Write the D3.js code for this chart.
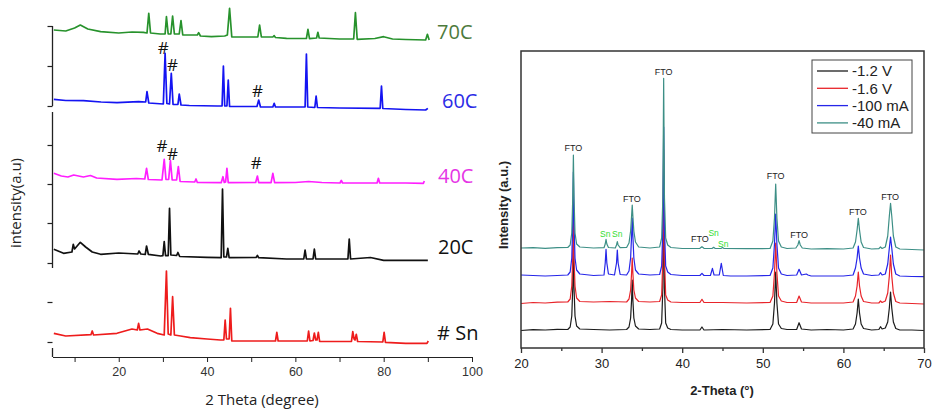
<!DOCTYPE html>
<html><head><meta charset="utf-8">
<script src="https://cdn.jsdelivr.net/npm/d3@7"></script>
<style>body{margin:0;background:#fff}svg{display:block}</style>
</head><body>
<svg id="c" width="937" height="418"></svg>
<script>
// ---------- LEFT PANEL DATA (2θ in degrees, stacked intensity in a.u.) ----------
const leftXTicks = [10,20,30,40,50,60,70,80,90,100];
const leftYTicks = [15,55,94,134,173,212,251,291,331];
const leftNames = ["70C","60C","40C","20C","# Sn"];
const left70C = [[5.3,327],[8,326],[10,329],[11.3,332],[13,328],[15.9,325.3],[20,324],[23,325],[25.6,324.7],[26.4,324],[26.8,343.7],[27.2,324],[29.4,323],[30.5,323],[30.8,340.3],[31.2,323],[31.8,323],[32.2,341],[32.6,323],[33.7,323],[34.1,336.3],[34.5,322],[37.8,322],[38.1,324.3],[38.5,321],[41,320.3],[44,321],[44.6,322],[45.1,348.7],[45.6,320],[51.5,320],[51.9,332],[52.3,320],[54.9,320],[55.2,321.3],[55.5,319.5],[58,318.7],[62.5,318.5],[62.85,327.7],[63.2,318.3],[64.8,319],[65.1,324.7],[65.4,319],[70,318],[73.2,318],[73.6,344.3],[74,317.7],[78,318.5],[80,320.3],[82,318],[85,317.5],[89.5,317],[89.9,322.7],[90.3,317]];
const left60C = [[5.3,257.7],[8,256.5],[12,256.3],[16,255],[19.6,254.3],[24.5,255.3],[26.1,255],[26.4,265.3],[26.8,254],[30.1,253],[30.5,303.7],[30.9,253.5],[31.5,253],[31.9,283.7],[32.3,252.5],[33.4,252.5],[33.7,263],[34.1,252],[36,251.5],[42.3,251],[43.4,251],[43.7,291],[44.0,251],[44.5,251],[44.8,277],[45.1,250.5],[48,250.5],[51.3,250.5],[51.7,257],[52.1,250],[54.9,250],[55.2,253.7],[55.5,250],[60,250],[62.2,250],[62.5,303],[62.8,250],[64.4,249.5],[64.7,261],[65.0,249.5],[70,249],[79.2,248.7],[79.5,271],[79.8,248.5],[85,247.5],[89.5,247],[90,248.7]];
const left40C = [[5.3,183.7],[7,181],[8.5,180],[9.8,182],[12,180],[13.6,181.5],[15,179],[19.6,177.7],[24,178.5],[25.9,178],[26.3,188.7],[26.7,177.5],[29.8,177],[30.3,197.7],[30.7,177.5],[31.3,177.5],[31.7,196.3],[32.1,177],[33.1,177],[33.5,190.3],[33.9,175.5],[37.2,175],[37.5,178],[37.8,174.5],[43.2,174.3],[43.6,180.3],[43.9,174.5],[44.2,175],[44.5,188.7],[44.8,174.3],[51.0,174.5],[51.4,181],[51.7,174.3],[54.5,174.3],[54.9,183.7],[55.3,174.3],[60,174.5],[63,175.5],[66,174.5],[70.1,174],[70.4,176.5],[70.7,174],[78.5,174],[78.8,178.7],[79.1,174],[85,174],[89,173.7],[89.2,176]];
const left20C = [[5.3,107.7],[7.5,103.7],[9.4,105],[9.7,112.7],[10,108],[11.3,114.7],[12.5,110],[14,105],[15.9,102.7],[20,104],[24.3,103],[24.6,106],[25,103],[26.0,102.5],[26.3,111],[26.7,102.7],[29.5,101],[30.0,101.3],[30.3,115.3],[30.6,101.3],[31.2,101.3],[31.5,148.7],[31.8,102],[33.1,101.5],[33.4,104.5],[33.8,100.5],[40,99.7],[43.2,99.3],[43.5,168],[43.8,100],[44.4,100],[44.7,108.7],[45.0,99.3],[51.1,99.5],[51.4,101.5],[51.7,99.3],[58,98],[61.9,98],[62.2,107],[62.5,98],[64.0,98],[64.3,108],[64.6,98],[71.9,98],[72.2,118],[72.5,98],[77,99.5],[80,96.7],[90,96.7]];
const leftSn = [[5.3,23.7],[8,21],[13.7,22.3],[14,26],[14.3,22],[19.6,23.7],[23,28],[24.2,27],[24.5,33.7],[24.8,27],[26.5,28],[28.7,23.7],[30.3,22],[30.8,86],[31.2,23],[31.8,22],[32.2,60.3],[32.6,22],[34,21],[36.2,19.3],[40,18],[43.0,17],[43.8,17],[44.1,37],[44.4,18],[45.0,18],[45.3,48.7],[45.6,16],[50,16],[55.5,16],[55.8,24.7],[56.1,16],[62.7,16],[63.0,26],[63.3,16],[64.0,16.5],[64.3,24],[64.6,17],[64.9,17],[65.2,24.7],[65.5,15.5],[70,15.5],[72.7,15.5],[73.0,25.3],[73.3,18],[73.5,17],[73.8,22.7],[74.1,15.5],[79.8,15],[80.1,24.7],[80.4,14.7],[85,13.7],[89.8,13.7],[90.1,16]];
const leftLabelPos = [[92.1,325],[93.2,256],[92.3,181],[92.3,110],[92.1,24]];
const hashMarks = [[30.1,309],[32.15,292],[51.45,266],[29.8,211],[32.2,203],[51.15,194]];

// ---------- RIGHT PANEL DATA ----------
const rightXTicks = [20,25,30,35,40,45,50,55,60,65,70];
const rightNames = ["-1.2 V","-1.6 V","-100 mA","-40 mA"];
const rightBlack = [[20,17.5],[21.5,18.3],[23,18],[24.5,18.6],[25.8,18.5],[26.1,21],[26.3,32],[26.42,60],[26.5,103],[26.58,60],[26.7,32],[26.9,22],[27.3,19],[29,18.5],[31,18],[33.1,18.5],[33.4,21],[33.6,30],[33.72,48],[33.8,68],[33.88,48],[34.0,30],[34.2,22],[34.6,19],[36,18.5],[37.2,19],[37.45,25],[37.6,60],[37.7,173],[37.8,60],[37.95,25],[38.2,20],[38.6,18.5],[40,18],[42.2,18],[42.45,21],[42.7,18],[45,18.5],[48,18],[50.9,18.5],[51.25,24],[51.45,45],[51.6,76],[51.75,45],[51.95,24],[52.3,19.5],[53,18.5],[54.2,18.5],[54.5,25.3],[54.8,19],[56,18],[58,18.5],[60,18],[61.2,19],[61.5,24],[61.7,35],[61.85,49],[62.0,35],[62.2,24],[62.5,19.5],[63.5,18],[64.4,18.5],[64.6,21.3],[64.8,19],[65.2,20],[65.5,26],[65.7,40],[65.85,56],[66.0,40],[66.2,26],[66.5,19.5],[67,18],[68.5,18],[70,17.5]];
const rightRed = [[20,44.5],[21.5,45.5],[23,45],[24.5,45.8],[25.8,46],[26.1,49],[26.3,62],[26.42,90],[26.5,135],[26.58,90],[26.7,62],[26.9,50],[27.3,46.5],[29,46],[31,46.5],[33.1,46],[33.4,49],[33.6,58],[33.72,75],[33.8,90],[33.88,75],[34.0,58],[34.2,50],[34.6,46.5],[36,46],[37.2,46.5],[37.45,53],[37.6,90],[37.7,198],[37.8,90],[37.95,53],[38.2,48],[38.6,46],[40,45.5],[42.2,45.5],[42.45,48.7],[42.7,45.5],[45,45.5],[48,45],[50.9,45.5],[51.25,52],[51.45,75],[51.6,105],[51.75,75],[51.95,52],[52.3,47],[53,45.5],[54.2,45.5],[54.5,52],[54.8,46],[56,45],[58,45],[60,45],[61.2,46],[61.5,52],[61.7,62],[61.85,76],[62.0,62],[62.2,52],[62.5,46.5],[63.5,45],[64.4,45],[64.6,47],[64.8,45.5],[65.2,47],[65.5,55],[65.7,72],[65.85,93],[66.0,72],[66.2,55],[66.5,46.5],[67,45],[68.5,44.5],[70,44]];
const rightBlue = [[20,73],[21.5,72.5],[23,72],[24.5,72.5],[25.8,73],[26.1,76],[26.3,90],[26.42,125],[26.5,176],[26.58,125],[26.7,90],[26.9,78],[27.3,74],[29,72.5],[30.3,73],[30.45,85],[30.55,98.7],[30.65,85],[30.85,74],[31.6,73],[31.85,85],[31.95,98],[32.05,85],[32.3,73.5],[33.1,73],[33.4,77],[33.6,90],[33.72,112],[33.8,130],[33.88,112],[34.0,90],[34.2,78],[34.6,74],[36,73],[37.2,73.5],[37.45,82],[37.6,120],[37.7,221],[37.8,120],[37.95,82],[38.2,76],[38.6,73.5],[40,72.5],[42.2,72.5],[42.45,74.7],[42.7,72.5],[43.5,72.5],[43.75,79.7],[43.95,73],[44.6,73],[44.85,84.7],[45.1,72.5],[46,72],[48,72],[50.9,72.5],[51.25,80],[51.45,104],[51.6,134],[51.75,104],[51.95,80],[52.3,74],[53,72.5],[54.2,73],[54.5,78.7],[54.8,73],[55.4,74],[55.6,73],[56,72],[58,72],[60,72],[61.2,73],[61.5,80],[61.7,90],[61.85,102],[62.0,90],[62.2,80],[62.5,74],[63.5,72.5],[64.4,73],[64.6,75.3],[64.8,73],[65.2,74],[65.5,84],[65.7,100],[65.85,111],[66.0,100],[66.2,84],[66.5,74],[67,72],[68.5,71.5],[70,71.3]];
const rightTeal = [[20,100],[21.5,100.3],[23,99.7],[24.5,100.3],[25.8,100.5],[26.1,103],[26.3,115],[26.42,150],[26.5,193],[26.58,150],[26.7,115],[26.9,104],[27.3,101],[29,100],[30.3,100.3],[30.45,104],[30.55,108.7],[30.65,104],[30.85,100.5],[31.7,100],[31.85,103],[31.95,106.3],[32.05,103],[32.3,100.3],[33.1,100.5],[33.4,105],[33.6,117],[33.72,132],[33.8,143],[33.88,132],[34.0,117],[34.2,106],[34.6,101],[36,100],[37.2,101],[37.45,110],[37.6,150],[37.7,269.7],[37.8,150],[37.95,110],[38.2,103],[38.6,100.5],[40,99.5],[42.2,99.7],[42.45,101.3],[42.7,99.7],[43.7,99.5],[43.9,100.7],[44.1,99.5],[44.8,99.5],[45.0,100.5],[45.2,99.5],[48,99.3],[50.9,99.5],[51.25,107],[51.45,130],[51.6,164],[51.75,130],[51.95,107],[52.3,101],[53,99.5],[54.1,100],[54.35,103],[54.5,107.3],[54.65,103],[54.9,100],[56,99],[58,99.3],[60,99],[61.2,100],[61.5,106],[61.7,118],[61.85,129.7],[62.0,118],[62.2,106],[62.5,100.5],[63.5,99],[64.4,99.3],[64.6,101],[64.8,99.5],[65.2,101],[65.5,112],[65.7,132],[65.85,144.7],[66.0,132],[66.2,112],[66.5,101],[67,99],[68.5,98.5],[70,98]];
const ftoLabels = [[26.5,199.7],[33.75,148.7],[37.7,276.3],[42.2,108.7],[51.6,172.5],[54.5,113],[61.8,136.3],[65.8,150.7]];
const snLabels = [[30.45,114],[31.95,114],[43.9,115],[45.1,104]];

// ---------- DRAW ----------
const svg = d3.select("#c");
const sansL = "'Open Sans', 'Noto Sans', sans-serif";
const arial = "'Liberation Sans', Arial, sans-serif";

// Left panel scales
const xL = d3.scaleLinear().domain([5,100]).range([52.5,472]);
const yL = d3.scaleLinear().domain([0,331]).range([357,26]);
const lineL = d3.line().x(d=>xL(d[0])).y(d=>yL(d[1]));

const leftSeries = [left70C,left60C,left40C,left20C,leftSn];
const leftColors = ["#27922c","#1414f2","#ff1eff","#111111","#ee1c1c"];
const leftLabelColors = ["#4d7a3c","#2b2be6","#e535e5","#111111","#111111"];

// x axis
const gxL = svg.append("g").attr("transform","translate(0,357)")
  .call(d3.axisBottom(xL).tickValues(leftXTicks).tickFormat(d=>d%20===0?d:"").tickSize(5).tickSizeOuter(0));
gxL.select(".domain").attr("stroke","#222").attr("stroke-width",1.2);
gxL.selectAll(".tick line").attr("stroke","#222");
gxL.selectAll("text").attr("font-family",arial).attr("font-size",12.5).attr("fill","#333").attr("dy","0.9em");

// y axis (ticks only, broken vertical line)
const gyL = svg.append("g").attr("transform","translate(52.5,0)")
  .call(d3.axisLeft(yL).tickValues(leftYTicks).tickFormat("").tickSize(5).tickSizeOuter(0));
gyL.select(".domain").remove();
gyL.selectAll(".tick line").attr("stroke","#222").attr("stroke-width",1.2);
[[331,251],[245,89],[9,0]].forEach(s=>{
  svg.append("line").attr("x1",52.5).attr("x2",52.5).attr("y1",yL(s[0])).attr("y2",yL(s[1]))
    .attr("stroke","#222").attr("stroke-width",1.3);
});

leftSeries.forEach((s,i)=>{
  svg.append("path").datum(s).attr("d",lineL).attr("fill","none")
    .attr("stroke",leftColors[i]).attr("stroke-width",1.7).attr("stroke-linejoin","round");
});
leftNames.forEach((n,i)=>{
  svg.append("text").attr("x",xL(leftLabelPos[i][0])).attr("y",yL(leftLabelPos[i][1]))
    .attr("dy","0.36em").attr("font-family",sansL).attr("font-size",20)
    .attr("fill",leftLabelColors[i]).text(n);
});
hashMarks.forEach(h=>{
  svg.append("text").attr("x",xL(h[0])).attr("y",yL(h[1])).attr("dy","0.36em")
    .attr("text-anchor","middle").attr("font-family",sansL).attr("font-size",17)
    .attr("fill","#111").text("#");
});
svg.append("text").attr("transform","translate(16,203) rotate(-90)").attr("text-anchor","middle")
  .attr("dy","0.35em").attr("font-family",sansL).attr("font-size",15).attr("fill","#222").text("intensity(a.u)");
svg.append("text").attr("x",262).attr("y",400).attr("text-anchor","middle").attr("dy","0.35em")
  .attr("font-family",sansL).attr("font-size",15).attr("fill","#222").text("2 Theta (degree)");

// Right panel
const xR = d3.scaleLinear().domain([20,70]).range([521,924]);
const yR = d3.scaleLinear().domain([0,297]).range([348,51]);
const lineR = d3.line().x(d=>xR(d[0])).y(d=>yR(d[1]));
const rightSeries = [rightBlack,rightRed,rightBlue,rightTeal];
const rightColors = ["#1c1c1c","#e8242a","#2626e8","#3d8f86"];

rightSeries.forEach((s,i)=>{
  svg.append("path").datum(s).attr("d",lineR).attr("fill","none")
    .attr("stroke",rightColors[i]).attr("stroke-width",1.2).attr("stroke-linejoin","round");
});
svg.append("rect").attr("x",521).attr("y",51).attr("width",403).attr("height",297)
  .attr("fill","none").attr("stroke","#333").attr("stroke-width",1.5);
const gxR = svg.append("g").attr("transform","translate(0,348)")
  .call(d3.axisBottom(xR).tickValues(rightXTicks).tickFormat(d=>d%10===0?d:"").tickSize(5).tickSizeOuter(0));
gxR.select(".domain").remove();
gxR.selectAll(".tick line").attr("stroke","#333").attr("stroke-width",1.3)
  .attr("y2",d=>d%10===0?5:3);
gxR.selectAll("text").attr("font-family",arial).attr("font-size",13).attr("fill","#222").attr("dy","0.95em");

ftoLabels.forEach(f=>{
  svg.append("text").attr("x",xR(f[0])).attr("y",yR(f[1])).attr("dy","0.35em").attr("text-anchor","middle")
    .attr("font-family",arial).attr("font-size",9).attr("fill","#222").text("FTO");
});
snLabels.forEach(f=>{
  svg.append("text").attr("x",xR(f[0])).attr("y",yR(f[1])).attr("dy","0.35em").attr("text-anchor","middle")
    .attr("font-family",arial).attr("font-size",8.5).attr("fill","#33dd33").text("Sn");
});
svg.append("text").attr("transform","translate(503,205) rotate(-90)").attr("text-anchor","middle")
  .attr("dy","0.35em").attr("font-family",arial).attr("font-size",13).attr("font-weight","bold")
  .attr("fill","#222").text("Intensity (a.u.)");
svg.append("text").attr("x",722).attr("y",390).attr("text-anchor","middle").attr("dy","0.35em")
  .attr("font-family",arial).attr("font-size",13).attr("font-weight","bold").attr("fill","#222").text("2-Theta (°)");

// Legend
const lg = svg.append("g");
lg.append("rect").attr("x",812).attr("y",60).attr("width",100).attr("height",73)
  .attr("fill","#fff").attr("stroke","#444").attr("stroke-width",1);
rightNames.forEach((n,i)=>{
  const yy = 71 + i*17.3;
  lg.append("line").attr("x1",817).attr("x2",848).attr("y1",yy).attr("y2",yy)
    .attr("stroke",rightColors[i]).attr("stroke-width",1.3);
  lg.append("text").attr("x",852).attr("y",yy).attr("dy","0.35em").attr("font-family",arial)
    .attr("font-size",15).attr("fill","#222").text(n);
});
</script>
</body></html>
